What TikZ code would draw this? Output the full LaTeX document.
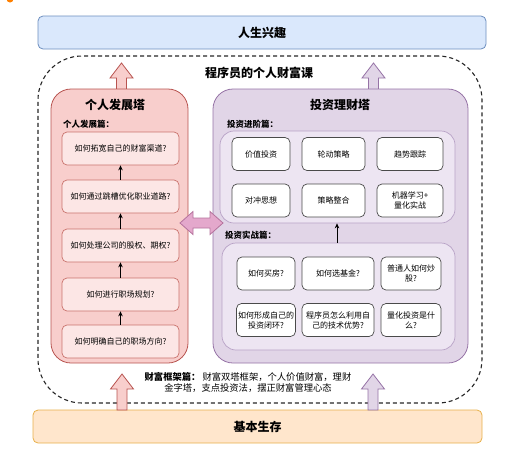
\documentclass[tikz,border=0pt]{standalone}
\usepackage{fontspec}
\setmainfont{Noto Sans CJK SC}
\usetikzlibrary{calc,arrows.meta}
\pgfdeclarelayer{bg}
\pgfsetlayers{bg,main}
\definecolor{topfill}{HTML}{DAE8FC}
\definecolor{topline}{HTML}{6C8EBF}
\definecolor{pinkfill}{HTML}{F8CECC}
\definecolor{pinkline}{HTML}{B85450}
\definecolor{pinkitem}{HTML}{FCE6E5}
\definecolor{pinkitemline}{HTML}{C9726C}
\definecolor{purfill}{HTML}{E1D5E7}
\definecolor{purline}{HTML}{9673A6}
\definecolor{panelfill}{HTML}{EDE5F2}
\definecolor{panelline}{HTML}{B8A2C6}
\definecolor{basefill}{HTML}{FFE6CC}
\definecolor{baseedge}{HTML}{E8B04A}
\definecolor{dblfill}{HTML}{E4A8CC}
\definecolor{dblline}{HTML}{B5739D}
\definecolor{itemline}{HTML}{4A4A4A}
\newcommand\upblock[3]{%
  \draw[#1] ($(#2)+(-5,0)$) -- ($(#3)+(-5,15)$) -- ($(#3)+(-11.5,15)$) -- (#3)
    -- ($(#3)+(11.5,15)$) -- ($(#3)+(5,15)$) -- ($(#2)+(5,0)$) -- cycle;}
\begin{document}
\begin{tikzpicture}[x=1pt,y=-1pt,
  every node/.style={inner sep=0pt, font=\fontsize{8}{10}\selectfont},
  bigtxt/.style={font=\fontsize{12}{14}\selectfont\bfseries},
  subhead/.style={anchor=west, font=\fontsize{8.5}{10}\selectfont\bfseries},
  bar/.style={rounded corners=5pt, line width=0.8pt, bigtxt},
  frame/.style={draw=black!85, dash pattern=on 4pt off 3pt, line width=1.1pt,
    rounded corners=44pt, minimum width=444pt, minimum height=347pt},
  tower/.style={rounded corners=20pt, line width=0.8pt},
  pitem/.style={draw=pinkitemline, fill=pinkitem, rounded corners=5pt, line width=0.7pt,
    minimum width=117pt, minimum height=33pt},
  panel/.style={draw=panelline, fill=panelfill, rounded corners=14pt, line width=0.7pt},
  witem/.style={draw=itemline, fill=white, rounded corners=5pt, line width=0.7pt,
    align=center, minimum height=33pt},
  sarrow/.style={-{Stealth[length=5pt,width=4.5pt]}, line width=0.9pt},
  pblock/.style={draw=pinkline, fill=pinkfill, line width=0.8pt, line join=miter},
  ublock/.style={draw=purline, fill=purfill, line width=0.8pt, line join=miter}]
\useasboundingbox (0,0) rectangle (519,461);
\fill[orange] (10,-1) circle (3.5);

% top and bottom bars
\node[bar, draw=topline, fill=topfill, minimum width=448pt, minimum height=33pt] (life) at (262,32.5) {人生兴趣};
\node[bar, draw=baseedge, fill=basefill, minimum width=449pt, minimum height=33pt] (base) at (257.5,426.5) {基本生存};

% dashed frame
\node[frame] (frame) at (260,229.5) {};
\node[bigtxt] (course) at (259,73) {程序员的个人财富课};

% left tower
\node[tower, draw=pinkline, fill=pinkfill, minimum width=137pt, minimum height=274pt] (pink) at (119.5,226) {};
\node[bigtxt] (pinkt) at (115,105) {个人发展塔};
\node[subhead] (pinks) at (63,124) {个人发展篇：};
\node[pitem] (p1) at (120.5,148.5) {如何拓宽自己的财富渠道?};
\node[pitem] (p2) at (120.5,196.5) {如何通过跳槽优化职业道路?};
\node[pitem] (p3) at (120.5,245.5) {如何处理公司的股权、期权?};
\node[pitem] (p4) at (120.5,294.5) {如何进行职场规划?};
\node[pitem] (p5) at (120.5,341.5) {如何明确自己的职场方向?};
\draw[sarrow] (p5.north) -- (p4.south);
\draw[sarrow] (p4.north) -- (p3.south);
\draw[sarrow] (p3.north) -- (p2.south);
\draw[sarrow] (p2.north) -- (p1.south);

% right tower
\node[tower, draw=purline, fill=purfill, minimum width=255pt, minimum height=274pt] (pur) at (340.5,226) {};
\node[bigtxt] (purt) at (340,105) {投资理财塔};
\node[subhead] (adv) at (227,124) {投资进阶篇：};
\node[panel, minimum width=235pt, minimum height=92pt] (pan1) at (337.5,177) {};
\node[witem, minimum width=58pt] (a1) at (261,154) {价值投资};
\node[witem, minimum width=63pt] (a2) at (333.5,154) {轮动策略};
\node[witem, minimum width=66pt] (a3) at (410,154) {趋势跟踪};
\node[witem, minimum width=58pt] (a4) at (261,200.5) {对冲思想};
\node[witem, minimum width=63pt] (a5) at (333.5,200.5) {策略整合};
\node[witem, minimum width=66pt] (a6) at (410,200.5) {机器学习+\\量化实战};
\node[subhead] (prac) at (225,235) {投资实战篇：};
\node[panel, minimum width=233pt, minimum height=107pt] (pan2) at (338.5,296.5) {};
\node[witem, minimum width=58pt] (b1) at (266,273.5) {如何买房?};
\node[witem, minimum width=72pt] (b2) at (338,273.5) {如何选基金?};
\node[witem, minimum width=60pt] (b3) at (411,273.5) {普通人如何炒\\股?};
\node[witem, minimum width=59pt] (b4) at (266,320) {如何形成自己的\\投资闭环?};
\node[witem, minimum width=72pt] (b5) at (338,320) {程序员怎么利用自\\己的技术优势?};
\node[witem, minimum width=60pt] (b6) at (411,320) {量化投资是什\\么?};
\draw[sarrow] (pan2.north -| 337,0) -- (pan1.south -| 337,0);

% framework text
\node[align=center, font=\fontsize{9.3}{11}\selectfont] (frm) at (248,382.5)
  {\textbf{财富框架篇：} 财富双塔框架，个人价值财富，理财\\金字塔，支点投资法，摆正财富管理心态};

% block arrows
\coordinate (pkb) at (121.5,90);
\coordinate (pkt) at (121.5,63);
\coordinate (pub) at (373.5,90);
\coordinate (put) at (373.5,63);
\coordinate (pkb2) at (122,410);
\coordinate (pkt2) at (122,374);
\coordinate (pub2) at (373,410);
\coordinate (put2) at (373,374);
\begin{pgfonlayer}{bg}
\upblock{pblock}{pkb}{pkt}
\upblock{ublock}{pub}{put}
\end{pgfonlayer}
\upblock{pblock}{pkb2}{pkt2}
\upblock{ublock}{pub2}{put2}

% double arrow
\coordinate (dl) at (180,223);
\coordinate (dr) at (223,223);
\draw[draw=dblline, fill=dblfill, line width=0.8pt, line join=miter]
  (dl) -- ($(dl)+(13,-11.5)$) -- ($(dl)+(13,-5)$) -- ($(dr)+(-13,-5)$) -- ($(dr)+(-13,-11.5)$)
  -- (dr) -- ($(dr)+(-13,11.5)$) -- ($(dr)+(-13,5)$) -- ($(dl)+(13,5)$) -- ($(dl)+(13,11.5)$) -- cycle;
\end{tikzpicture}
\end{document}
